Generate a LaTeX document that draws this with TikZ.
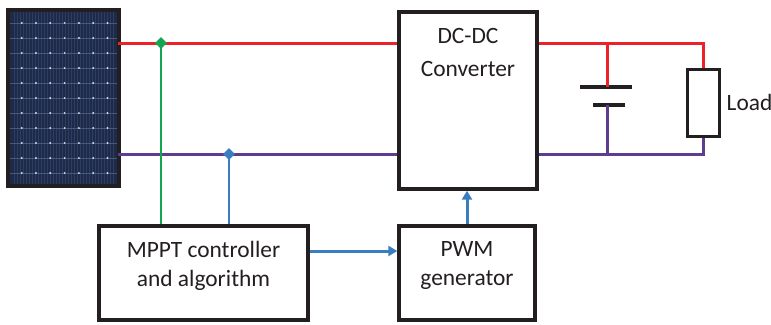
\documentclass[tikz,border=0pt]{standalone}
\usepackage{fontspec}
\setmainfont{Carlito}
\usetikzlibrary{positioning,arrows.meta,shapes.geometric}

\definecolor{boxblack}{HTML}{231F20}
\definecolor{wirered}{HTML}{ED2229}
\definecolor{wirepurple}{HTML}{5E3C92}
\definecolor{wiregreen}{HTML}{13A650}
\definecolor{wireblue}{HTML}{3B7DC1}
\definecolor{cellblue}{HTML}{1D2A4A}
\definecolor{gridblue}{HTML}{5B6C92}

\tikzset{
  block/.style={draw=boxblack, line width=3.4pt, fill=white, inner sep=0pt},
  lbl/.style={align=center, inner sep=0pt, text=boxblack,
    font=\fontsize{23.4}{29}\selectfont},
  power/.style={line width=3pt},
  sense/.style={line width=2.3pt},
  signal/.style={wireblue, line width=3pt, -{Triangle[width=10pt,length=9pt]}},
  junction/.style={diamond, inner sep=0pt, minimum size=12pt},
  plate/.style={boxblack, line width=4pt},
}

\begin{document}
\begin{tikzpicture}[x=1pt,y=-1pt]
  \useasboundingbox (0,0) rectangle (771,324);

  % solar panel
  \fill[boxblack] (6,8) rectangle (121,188);
  \fill[cellblue] (10,12) rectangle (117,184);
  \foreach \x in {14,17,...,115}
    \draw[gridblue, opacity=0.3, line width=0.6pt] (\x,12) -- (\x,184);
  \foreach \k in {0,...,10}
    \draw[gridblue, opacity=0.7, line width=0.7pt] (10,23+15*\k) -- (117,23+15*\k);
  \foreach \i in {0,...,6}
    \foreach \k in {0,...,10}
      \fill[white!75!gridblue] (21.7+14.3*\i,23+15*\k) circle (1.1pt);
  \coordinate (pplus) at (118,43);
  \coordinate (pminus) at (118,154);

  % blocks
  \node[block, minimum width=138pt, minimum height=177pt] (conv) at (468,100.5) {};
  \node[lbl, font=\fontsize{23.4}{33}\selectfont, anchor=north]
    (convtext) at ([yshift=-17.5pt]conv.north) {DC-DC\\Converter};
  \node[block, minimum width=209pt, minimum height=94pt] (mppt) at (203.5,273) {};
  \node[lbl] (mppttext) at ([yshift=7pt]mppt.center) {MPPT controller\\and algorithm};
  \node[block, minimum width=136pt, minimum height=94pt] (pwm) at (467,273) {};
  \node[lbl] (pwmtext) at ([yshift=7pt]pwm.center) {PWM\\generator};
  \node[block, line width=3pt, minimum width=32pt, minimum height=67pt] (load) at (703,102.5) {};
  \node[lbl, anchor=west] (loadtext) at ([xshift=6pt]load.east) {Load};

  % capacitor
  \coordinate (captop) at (607,87);
  \coordinate (capbot) at (607,105);
  \draw[plate] ([xshift=-27pt]captop) -- ([xshift=25pt]captop);
  \draw[plate] ([xshift=-14pt]capbot) -- ([xshift=18pt]capbot);

  % power wiring
  \draw[power, wirered] (pplus) -- (pplus -| conv.west);
  \draw[power, wirepurple] (pminus) -- (pminus -| conv.west);
  \draw[power, wirered] (pplus -| conv.east) -- (pplus -| load.north) -- (load.north);
  \draw[power, wirepurple] (pminus -| conv.east) -- (pminus -| load.south) -- (load.south);
  \draw[power, wirered] (pplus -| captop) -- (captop);
  \draw[power, wirepurple] (capbot) -- (pminus -| capbot);

  % measurement taps
  \node[junction, fill=wiregreen] (vtap) at (161,43) {};
  \node[junction, fill=wireblue] (itap) at (229,154) {};
  \draw[sense, wiregreen] (vtap.center) -- (vtap |- mppt.north);
  \draw[sense, wireblue] (itap.center) -- (itap |- mppt.north);

  % control signals
  \draw[signal] ([yshift=22pt]mppt.east) -- ([yshift=22pt]pwm.west);
  \draw[signal] (pwm.north) -- (pwm.north |- conv.south);
\end{tikzpicture}
\end{document}
